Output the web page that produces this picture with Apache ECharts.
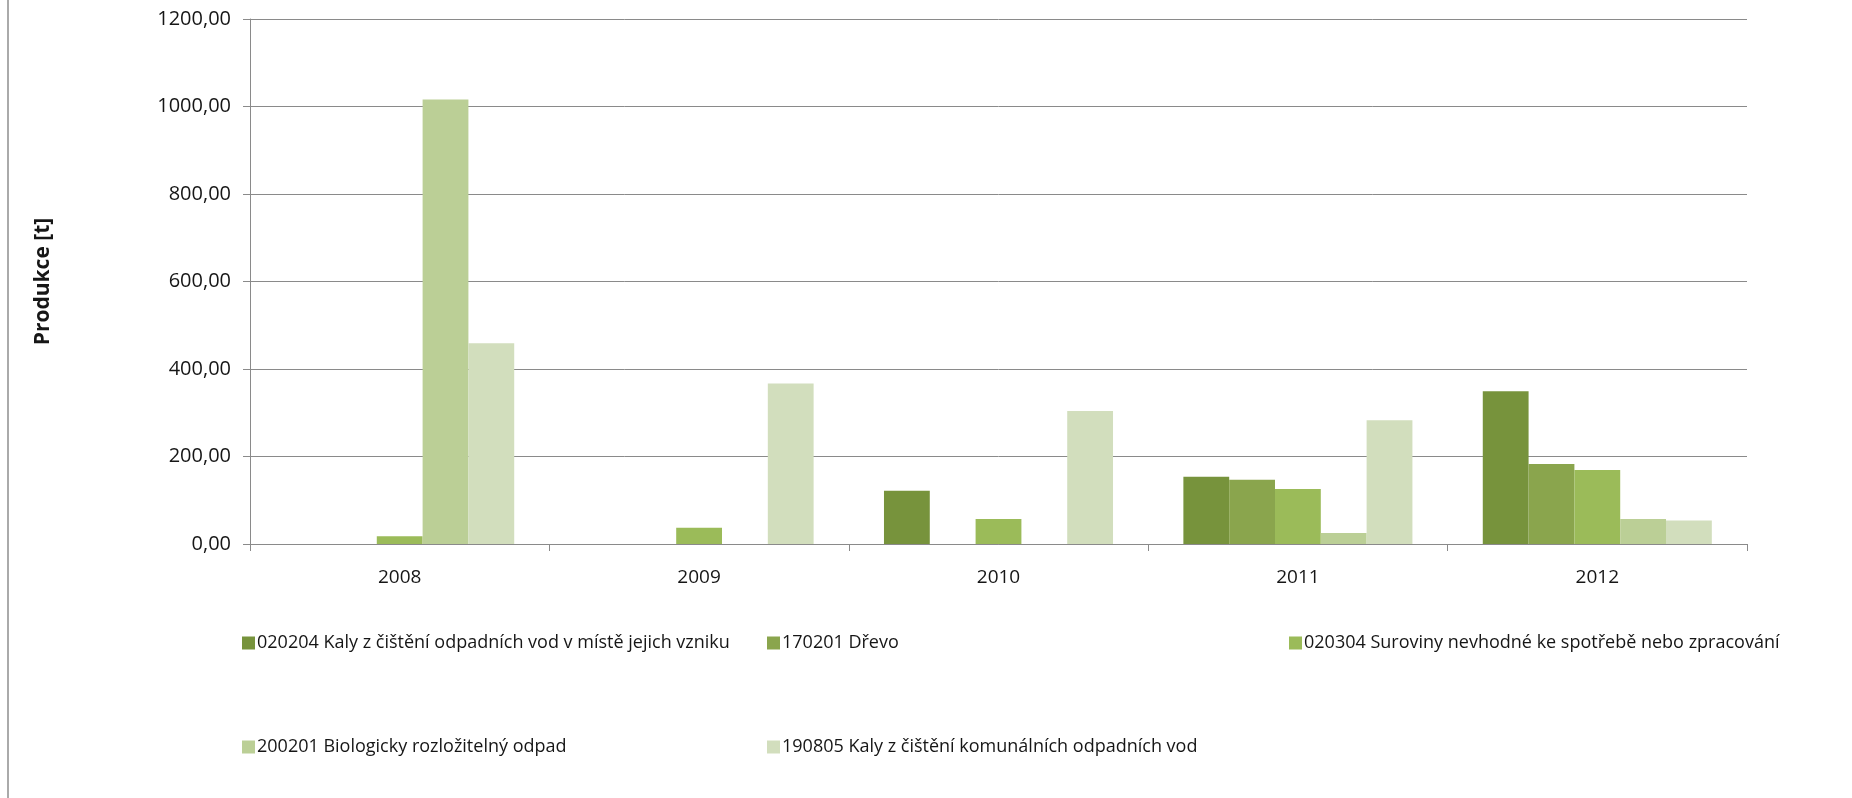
<!DOCTYPE html>
<html>
<head>
<meta charset="utf-8">
<script src="https://cdn.jsdelivr.net/npm/echarts@6/dist/echarts.min.js"></script>
<style>
  html, body { margin: 0; padding: 0; background: #fff; }
  #chart { width: 1852px; height: 798px; }
</style>
</head>
<body>
<div id="chart"></div>
<script>
// Produkce odpadů podle druhu, 2008–2012 (t)
const years = ['2008', '2009', '2010', '2011', '2012'];

const seriesNames = [
  '020204 Kaly z čištění odpadních vod v místě jejich vzniku',
  '170201 Dřevo',
  '020304 Suroviny nevhodné ke spotřebě nebo zpracování',
  '200201 Biologicky rozložitelný odpad',
  '190805 Kaly z čištění komunálních odpadních vod'
];

const kaly020204   = [0, 0, 122, 154, 349];
const drevo170201  = [0, 0, 0, 147, 183];
const suroviny     = [18, 37, 57, 126, 169];
const bioOdpad     = [1016, 0, 0, 25, 57];
const kaly190805   = [459, 367, 304, 283, 54];

const seriesValues = [kaly020204, drevo170201, suroviny, bioOdpad, kaly190805];
const seriesColors = ['#77933C', '#8AA54D', '#9BBB59', '#BBCF96', '#D2DEBD'];

const yTicks = { min: 0, max: 1200, interval: 200 };

const FONT = '"Open Sans", "Noto Sans", sans-serif';
const TEXT = '#161616';
const GRID_GRAY = '#8a8a8a';

const chart = echarts.init(document.getElementById('chart'), null, { renderer: 'canvas' });

// legend laid out as a fixed grid: three columns on the first row, two on the second
const legendSlots = [
  { left: 242, top: 634 },
  { left: 767, top: 634 },
  { left: 1289, top: 634 },
  { left: 242, top: 738 },
  { left: 767, top: 738 }
];

const option = {
  backgroundColor: '#ffffff',
  animation: false,
  grid: { left: 250, right: 105, top: 19, bottom: 254, containLabel: false },
  legend: seriesNames.map((name, i) => ({
    data: [name],
    left: legendSlots[i].left,
    top: legendSlots[i].top,
    padding: 0,
    itemWidth: 13,
    itemHeight: 13,
    icon: 'rect',
    selectedMode: false,
    textStyle: { fontFamily: FONT, fontSize: 18, color: TEXT, padding: [0, 0, 0, -3] }
  })),
  xAxis: {
    type: 'category',
    data: years,
    axisLine: { lineStyle: { color: GRID_GRAY, width: 1 } },
    axisTick: { show: true, length: 7, lineStyle: { color: GRID_GRAY } },
    axisLabel: { fontFamily: FONT, fontSize: 19, color: TEXT, margin: 24 }
  },
  yAxis: {
    type: 'value',
    min: yTicks.min,
    max: yTicks.max,
    interval: yTicks.interval,
    name: 'Produkce [t]',
    nameLocation: 'middle',
    nameRotate: 90,
    nameGap: 196,
    nameTextStyle: { fontFamily: FONT, fontSize: 21, fontWeight: 'bold', color: TEXT },
    axisLine: { show: true, lineStyle: { color: GRID_GRAY, width: 1 } },
    axisTick: { show: true, length: 7, lineStyle: { color: GRID_GRAY } },
    splitLine: { show: true, lineStyle: { color: GRID_GRAY, width: 1 } },
    axisLabel: {
      fontFamily: FONT, fontSize: 20, color: TEXT, margin: 19,
      formatter: v => v.toFixed(2).replace('.', ',')
    }
  },
  series: seriesNames.map((name, i) => ({
    name: name,
    type: 'bar',
    data: seriesValues[i],
    barGap: '0%',
    barCategoryGap: '23.5%',
    itemStyle: { color: seriesColors[i] }
  })),
  graphic: [{
    type: 'line',
    shape: { x1: 8, y1: 0, x2: 8, y2: 798 },
    style: { stroke: '#8e8e8e', lineWidth: 1.5 },
    silent: true
  }]
};

chart.setOption(option);
</script>
</body>
</html>
